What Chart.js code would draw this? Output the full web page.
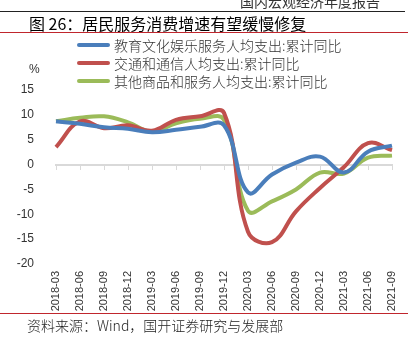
<!DOCTYPE html>
<html>
<head>
<meta charset="utf-8">
<script src="https://cdn.jsdelivr.net/npm/chart.js@4/dist/chart.umd.min.js"></script>
<style>
  body { margin: 0; background: #fff; }
  #wrap { position: relative; width: 418px; height: 340px; overflow: hidden; font-family: "Noto Sans CJK SC", sans-serif; }
  #chart { position: absolute; left: 0; top: 0; }
  .txt { position: absolute; white-space: nowrap; color: #000; }
  .rule { position: absolute; left: 0; height: 1px; }
  #legend .row { position: absolute; left: 77px; height: 18px; display: flex; align-items: center; }
  #legend .swatch { width: 33px; height: 4px; border-radius: 2px; margin-right: 4px; }
  #legend .lab { font-size: 14px; color: #333; font-weight: 300; }
</style>
</head>
<body>
<div id="wrap">
  <canvas id="chart" width="418" height="340"></canvas>
  <div class="txt" style="right:38px; top:-9px; font-size:14px; color:#333;">国内宏观经济年度报告</div>
  <div class="rule" style="top:11px; width:405px; background:#222;"></div>
  <div class="txt" style="left:29px; top:11px; font-size:16px; font-weight:400;">图 26：居民服务消费增速有望缓慢修复</div>
  <div class="rule" style="top:32px; width:408px; background:#c0262d;"></div>
  <div class="txt" style="left:29px; top:62px; font-size:12px; font-family:'Liberation Sans',sans-serif; color:#333;">%</div>
  <div id="legend"></div>
  <div class="rule" style="top:313px; width:408px; background:#c0262d;"></div>
  <div class="txt" style="left:27px; top:315px; font-size:14px; color:#222; font-weight:300;">资料来源：Wind，国开证券研究与发展部</div>
</div>
<script>
// ---- DATA ----
const quarters = ["2018-03", "2018-06", "2018-09", "2018-12", "2019-03", "2019-06", "2019-09", "2019-12",
                  "2020-03", "2020-06", "2020-09", "2020-12", "2021-03", "2021-06", "2021-09"];
const eduCulture = [8.7, 8.2, 7.5, 7.2, 6.5, 7.0, 7.6, 7.9, -5.6, -2.0, 0.4, 1.6, -1.6, 2.6, 3.8];
const transComm  = [3.5, 8.7, 7.3, 7.9, 6.8, 9.0, 9.7, 10.4, -13.5, -15.6, -9.4, -4.7, -0.5, 4.3, 2.9];
const otherGoods = [8.7, 9.4, 9.7, 8.5, 6.6, 8.3, 9.2, 9.0, -9.3, -7.4, -5.0, -1.6, -1.8, 1.4, 1.8];
const seriesNames = ["教育文化娱乐服务人均支出:累计同比", "交通和通信人均支出:累计同比", "其他商品和服务人均支出:累计同比"];
const seriesColors = ["#4a7ebb", "#c0504d", "#9bbb59"];

const lineStyle = { borderWidth: 4, pointRadius: 0, tension: 0.4, fill: false };

const tickFont = { family: "Liberation Sans", size: 12 };

const chart = new Chart(document.getElementById("chart"), {
  type: "line",
  data: {
    labels: quarters,
    datasets: [eduCulture, transComm, otherGoods].map((d, i) => ({
      label: seriesNames[i],
      data: d,
      borderColor: seriesColors[i],
      backgroundColor: seriesColors[i],
      ...lineStyle
    }))
  },
  options: {
    responsive: false,
    animation: false,
    layout: { padding: { top: 90, right: 26, bottom: 26, left: 0 } },
    plugins: { legend: { display: false }, tooltip: { enabled: false } },
    scales: {
      x: {
        offset: false,
        grid: { display: false, drawTicks: false },
        border: { display: false },
        ticks: { color: "#333", font: { family: "Liberation Sans", size: 11 }, minRotation: 90, maxRotation: 90, padding: 7, autoSkip: false },
        afterFit: s => { s.height = 50; }
      },
      // zero line with tick marks
      x0: {
        type: "category",
        labels: quarters,
        offset: false,
        position: { y: 0 },
        grid: { drawOnChartArea: false, drawTicks: true, tickLength: 4, color: "#d9d9d9", lineWidth: 1 },
        border: { display: true, color: "#d9d9d9", width: 2 },
        ticks: { display: false }
      },
      y: {
        min: -20,
        max: 15,
        grid: { display: false },
        border: { display: false },
        ticks: { stepSize: 5, color: "#333", font: tickFont, padding: 14 },
        afterFit: s => { s.width = 56; }
      }
    }
  }
});

// ---- LEGEND ----
const legend = document.getElementById("legend");
chart.data.datasets.forEach((ds, i) => {
  const row = document.createElement("div");
  row.className = "row";
  row.style.top = (36 + i * 18) + "px";
  row.innerHTML = '<div class="swatch" style="background:' + ds.borderColor + '"></div><span class="lab">' + ds.label + '</span>';
  legend.appendChild(row);
});
</script>
</body>
</html>
